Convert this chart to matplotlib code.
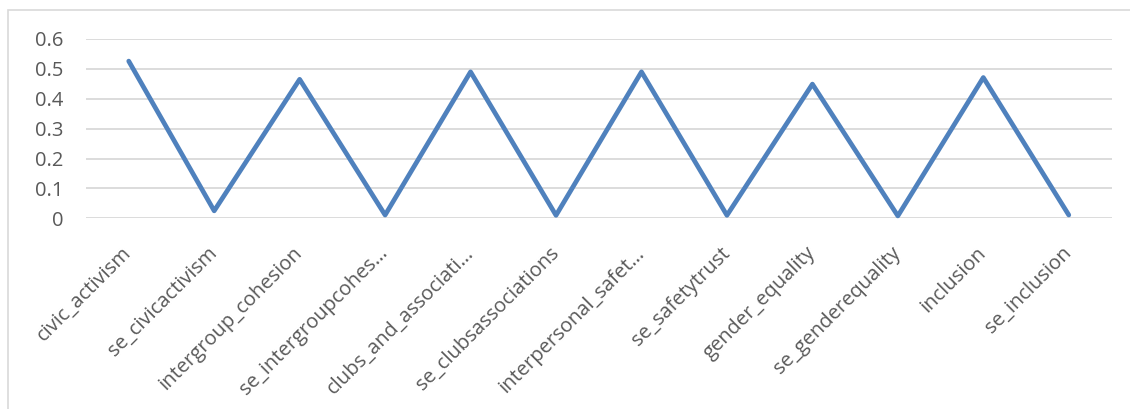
import matplotlib.pyplot as plt
from matplotlib.patches import Rectangle

# Data
categories = ['civic_activism', 'se_civicactivism', 'intergroup_cohesion',
              'se_intergroupcohes…', 'clubs_and_associati…', 'se_clubsassociations',
              'interpersonal_safet…', 'se_safetytrust', 'gender_equality',
              'se_genderequality', 'inclusion', 'se_inclusion']
values = [0.526, 0.025, 0.465, 0.011, 0.490, 0.010,
          0.490, 0.010, 0.449, 0.008, 0.471, 0.011]
yticks = [0, 0.1, 0.2, 0.3, 0.4, 0.5, 0.6]

plt.rcParams['font.family'] = ['Open Sans', 'DejaVu Sans']
grey = '#595959'

fig = plt.figure(figsize=(11.3, 4.09), dpi=100)
# chart area border (cut at right and bottom in the reference)
fig.patches.append(Rectangle((7.5 / 1130, -0.1), 1.2, 1 - 10 / 409 + 0.1,
                             transform=fig.transFigure, fill=False,
                             edgecolor='#D9D9D9', linewidth=1.2))

ax = fig.add_axes([86 / 1130, 1 - 218.3 / 409, (1111.5 - 86) / 1130, (218.3 - 39) / 409])
x = list(range(len(categories)))
ax.plot(x, values, color='#4F81BD', linewidth=3.4, solid_joinstyle='round',
        solid_capstyle='round', clip_on=False, zorder=3)

ax.set_xlim(-0.5, len(categories) - 0.5)
ax.set_ylim(0, 0.6)
ax.set_yticks(yticks)
ax.set_yticklabels(['0' if v == 0 else f'{v:.1f}' for v in yticks])
ax.yaxis.grid(True, color='#D9D9D9', linewidth=1.3)
ax.set_axisbelow(True)
for s in ax.spines.values():
    s.set_visible(False)
ax.tick_params(axis='y', length=0, pad=16, labelsize=14.5, labelcolor=grey)
ax.tick_params(axis='x', length=0, pad=23, labelsize=14.5, labelcolor=grey)
ax.set_xticks(x)
ax.set_xticklabels(categories, rotation=45, ha='right', va='center', rotation_mode='anchor')

fig.savefig('out.png', dpi=100)
